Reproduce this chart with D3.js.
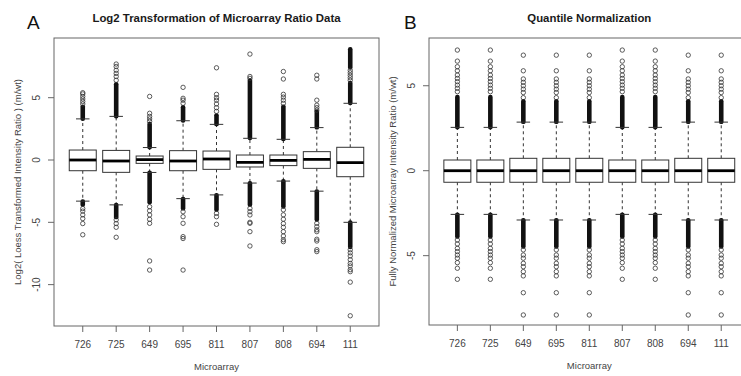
<!DOCTYPE html>
<html>
<head>
<meta charset="utf-8">
<script src="https://cdn.jsdelivr.net/npm/d3@7"></script>
<style>
  body { margin: 0; background: #fff; }
  svg { display: block; font-family: "Liberation Sans", Arial, sans-serif; }
</style>
</head>
<body>
<svg id="chart" width="741" height="376"></svg>
<script>
// categories (same order on both panels)
const categories = ["726", "725", "649", "695", "811", "807", "808", "694", "111"]

// Panel A : Log2 transformation
const aQ1 = [-0.86, -0.99, -0.27, -0.86, -0.75, -0.56, -0.45, -0.67, -1.34]
const aMed = [0, -0.08, 0.03, -0.08, 0.08, -0.19, -0.03, 0.05, -0.21]
const aQ3 = [0.8, 0.77, 0.32, 0.75, 0.72, 0.4, 0.4, 0.67, 1.02]
const aWhiskLo = [-3.3, -3.6, -1.0, -3.1, -2.8, -1.85, -1.69, -2.5, -5.0]
const aWhiskHi = [3.3, 3.5, 1.0, 3.15, 2.86, 1.74, 1.66, 2.6, 4.55]
// runs of outliers so close that the circles merge into a black bar
const aDenseHi = [[[3.3, 4.3]], [[3.5, 6.1]], [[1.0, 2.9]], [[3.15, 4.25]], [[2.86, 3.6]],
  [[1.74, 6.4]], [[1.66, 4.3]], [[2.6, 3.9]], [[4.55, 6.2], [7.4, 8.9]]]
const aDenseLo = [[[-3.3, -3.6]], [[-3.6, -4.6]], [[-1.0, -3.4]], [[-3.1, -3.9]], [[-2.8, -4.0]],
  [[-1.85, -3.6]], [[-1.69, -3.75]], [[-2.5, -4.8]], [[-5.0, -7.0]]]
// single visible outliers
const aOutHi = [
  [4.5, 4.7, 4.9, 5.1, 5.3, 5.4],
  [6.4, 6.7, 6.95, 7.2, 7.5, 7.7],
  [3.1, 3.3, 3.5, 3.75, 5.1],
  [4.55, 4.8, 4.95, 5.83],
  [3.9, 4.2, 4.5, 4.8, 5.0, 5.27, 7.4],
  [6.55, 6.7, 8.5],
  [4.55, 4.8, 5.05, 5.27, 6.5, 7.1],
  [4.0, 4.2, 4.4, 4.8, 6.5, 6.8],
  [6.4, 6.6, 6.8, 7.0, 7.2]
]
const aOutLo = [
  [-3.9, -4.1, -4.4, -4.7, -5.1, -6.0],
  [-4.8, -5.1, -5.4, -6.2],
  [-3.75, -4.07, -4.41, -4.76, -5.08, -8.1, -8.83],
  [-4.15, -4.55, -5.08, -6.15, -6.3, -8.83],
  [-4.28, -4.55, -5.16],
  [-3.88, -4.15, -4.41, -5.0, -5.08, -5.75, -6.9],
  [-4.0, -4.4, -4.75, -5.1, -5.4, -5.75, -6.1, -6.4, -6.55],
  [-5.08, -5.35, -5.6, -5.75, -6.36, -6.5, -7.2, -7.35],
  [-7.2, -7.45, -7.7, -8.0, -8.3, -8.5, -8.8, -8.96, -9.8, -12.5]
]

// Panel B : quantile normalization
const bQ1 = [-0.68, -0.68, -0.68, -0.68, -0.68, -0.68, -0.68, -0.68, -0.68]
const bMed = [0, 0, 0, 0, 0, 0, 0, 0, 0]
const bQ3 = [0.63, 0.63, 0.73, 0.73, 0.73, 0.63, 0.63, 0.73, 0.73]
const bWhiskLo = [-2.57, -2.57, -2.9, -2.9, -2.9, -2.57, -2.57, -2.9, -2.9]
const bWhiskHi = [2.55, 2.55, 2.86, 2.86, 2.86, 2.55, 2.55, 2.86, 2.86]
const bDenseHi = [[[2.55, 4.35]], [[2.55, 4.35]], [[2.86, 4.1]], [[2.86, 4.1]], [[2.86, 4.1]],
  [[2.55, 4.35]], [[2.55, 4.35]], [[2.86, 4.1]], [[2.86, 4.1]]]
const bDenseLo = [[[-2.57, -3.88]], [[-2.57, -3.88]], [[-2.9, -4.47]], [[-2.9, -4.47]], [[-2.9, -4.47]],
  [[-2.57, -3.88]], [[-2.57, -3.88]], [[-2.9, -4.47]], [[-2.9, -4.47]]]
const bHiA = [4.65, 4.85, 5.04, 5.24, 5.43, 5.63, 5.88, 6.12, 6.45, 7.1]
const bHiB = [4.3, 4.6, 4.8, 5.0, 5.2, 5.4, 5.88, 6.8]
const bLoA = [-4.08, -4.31, -4.57, -4.76, -4.96, -5.15, -5.41, -5.74, -6.39]
const bLoB = [-4.66, -4.96, -5.15, -5.45, -5.65, -5.94, -6.19, -7.18, -8.49]
const bOutHi = [bHiA, bHiA, bHiB, bHiB, bHiB, bHiA, bHiA, bHiB, bHiB]
const bOutLo = [bLoA, bLoA, bLoB, bLoB, bLoB, bLoA, bLoA, bLoB, bLoB]

const svg = d3.select("#chart")

function panel(o) {
    const x = d3.scaleLinear().domain([0.14, categories.length + 0.86]).range([o.left, o.right])
    const y = d3.scaleLinear().domain(o.yDomain).range([o.bottom, o.top])
    const g = svg.append("g")
    const bw = 27

    // titles
    g.append("text").attr("x", (o.left + o.right) / 2).attr("y", 22)
        .attr("text-anchor", "middle").style("font-weight", "bold").style("font-size", "11.4px")
        .attr("fill", "#1a1a1a").text(o.title)
    g.append("text").attr("x", o.letterX).attr("y", 29).style("font-size", "19px")
        .attr("fill", "#111").text(o.letter)

    categories.forEach(function (c, i) {
        const cx = x(i + 1)
        const cg = g.append("g")
        // whiskers
        cg.append("line").attr("x1", cx).attr("x2", cx).attr("y1", y(o.q3[i])).attr("y2", y(o.whHi[i]))
            .attr("stroke", "#333").attr("stroke-dasharray", "3,3")
        cg.append("line").attr("x1", cx).attr("x2", cx).attr("y1", y(o.q1[i])).attr("y2", y(o.whLo[i]))
            .attr("stroke", "#333").attr("stroke-dasharray", "3,3")
        // dense outlier runs
        o.denseHi[i].concat(o.denseLo[i]).forEach(function (r) {
            const y0 = Math.min(y(r[0]), y(r[1])), y1 = Math.max(y(r[0]), y(r[1]))
            cg.append("rect").attr("x", cx - 2.3).attr("width", 4.6)
                .attr("y", y0 - 2).attr("height", y1 - y0 + 4).attr("rx", 2.2)
                .attr("fill", "#111")
        })
        // caps
        ;[o.whHi[i], o.whLo[i]].forEach(function (v) {
            cg.append("line").attr("x1", cx - bw / 4).attr("x2", cx + bw / 4)
                .attr("y1", y(v)).attr("y2", y(v)).attr("stroke", "#333")
        })
        // box
        cg.append("rect").attr("x", cx - bw / 2).attr("width", bw)
            .attr("y", y(o.q3[i])).attr("height", y(o.q1[i]) - y(o.q3[i]))
            .attr("fill", "#fff").attr("stroke", "#333")
        cg.append("line").attr("x1", cx - bw / 2).attr("x2", cx + bw / 2)
            .attr("y1", y(o.med[i])).attr("y2", y(o.med[i]))
            .attr("stroke", "#000").attr("stroke-width", 2.8)
        // single outliers
        cg.selectAll("circle").data(o.outHi[i].concat(o.outLo[i])).join("circle")
            .attr("cx", cx).attr("cy", d => y(d)).attr("r", 2.2)
            .attr("fill", "none").attr("stroke", "#333").attr("stroke-width", 0.8)
    })

    // frame
    g.append("rect").attr("x", o.left).attr("y", o.top)
        .attr("width", o.right - o.left).attr("height", o.bottom - o.top)
        .attr("fill", "none").attr("stroke", "#666")

    // x axis
    categories.forEach(function (c, i) {
        g.append("line").attr("x1", x(i + 1)).attr("x2", x(i + 1))
            .attr("y1", o.bottom).attr("y2", o.bottom + 6).attr("stroke", "#666")
        g.append("text").attr("x", x(i + 1)).attr("y", o.bottom + 21.5)
            .attr("text-anchor", "middle").style("font-size", "10px").attr("fill", "#444").text(c)
    })
    g.append("text").attr("x", (o.left + o.right) / 2).attr("y", o.bottom + 43.5)
        .attr("text-anchor", "middle").style("font-size", "9.5px").attr("fill", "#444").text("Microarray")

    // y axis
    o.yTicks.forEach(function (t) {
        g.append("line").attr("x1", o.left - 6).attr("x2", o.left)
            .attr("y1", y(t)).attr("y2", y(t)).attr("stroke", "#666")
        g.append("text").attr("transform", `translate(${o.left - 14.5},${y(t)}) rotate(-90)`)
            .attr("text-anchor", "middle").style("font-size", "10px").attr("fill", "#444").text(t)
    })
    g.append("text").attr("transform", `translate(${o.left - 33.5},${(o.top + o.bottom) / 2}) rotate(-90)`)
        .attr("text-anchor", "middle").style("font-size", "9.5px").attr("fill", "#444").text(o.yTitle)
}

panel({
    left: 54, right: 379, top: 38, bottom: 326, yDomain: [-13.32, 9.79], yTicks: [-10, -5, 0, 5],
    title: "Log2 Transformation of Microarray Ratio Data", letter: "A", letterX: 27,
    yTitle: "Log2( Loess Transformed Intensity Ratio ) (m/wt)",
    q1: aQ1, med: aMed, q3: aQ3, whLo: aWhiskLo, whHi: aWhiskHi,
    denseHi: aDenseHi, denseLo: aDenseLo, outHi: aOutHi, outLo: aOutLo
})

panel({
    left: 429, right: 749.6, top: 38, bottom: 325, yDomain: [-9.08, 7.81], yTicks: [-5, 0, 5],
    title: "Quantile Normalization", letter: "B", letterX: 404,
    yTitle: "Fully Normalized Microarray Intensity Ratio (m/wt)",
    q1: bQ1, med: bMed, q3: bQ3, whLo: bWhiskLo, whHi: bWhiskHi,
    denseHi: bDenseHi, denseLo: bDenseLo, outHi: bOutHi, outLo: bOutLo
})
</script>
</body>
</html>
